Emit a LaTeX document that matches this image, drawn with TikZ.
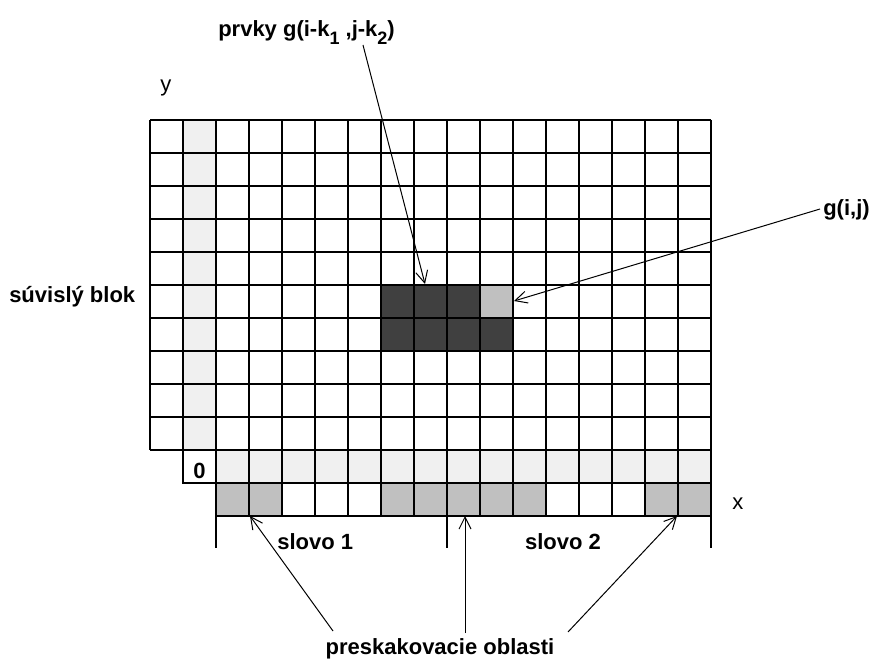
\documentclass[tikz,border=0pt]{standalone}
\usepackage{fontspec}
\setmainfont{Liberation Sans}
\usetikzlibrary{arrows.meta}
\definecolor{lightcell}{HTML}{F0F0F0}
\definecolor{midcell}{HTML}{C0C0C0}
\definecolor{darkcell}{HTML}{404040}
\newcommand{\lowidx}[1]{\raisebox{-5.5pt}{\fontsize{13.5}{14}\selectfont #1}}

\begin{document}
\begin{tikzpicture}[x=0.75pt,y=-0.75pt,
  lbl/.style={font=\fontsize{16.5}{18}\selectfont\bfseries, inner sep=0pt},
  axlbl/.style={font=\fontsize{16.5}{18}\selectfont, inner sep=0pt},
  pointer/.style={-{Straight Barb[length=9pt,width=9pt]}, line width=0.75pt},
  gridline/.style={line width=0.8pt}]
  \useasboundingbox (0,0) rectangle (882,659);
  % shaded cells
  \fill[lightcell] (183,120) rectangle (216,450);
  \fill[lightcell] (216,450) rectangle (711,483);
  \fill[darkcell] (381,285) rectangle (480,318);
  \fill[darkcell] (381,318) rectangle (513,351);
  \fill[midcell] (480,285) rectangle (513,318);
  \foreach \a/\b in {216/282,381/546,645/711}
    \fill[midcell] (\a,483) rectangle (\b,516);
  % grid
  \foreach \y in {120,153,...,450}
    \draw[gridline] (150,\y) -- (711,\y);
  \foreach \x in {150,183,...,711}
    \draw[gridline] (\x,120) -- (\x,450);
  \draw[gridline] (183,450) -- (183,483) -- (711,483);
  \draw[gridline] (216,516) -- (711,516);
  \foreach \x in {216,249,...,711}
    \draw[gridline] (\x,450) -- (\x,516);
  % word borders
  \foreach \x in {216,447,711}
    \draw[gridline] (\x,516) -- (\x,548);
  % labels
  \node[lbl, anchor=base west] (prvky) at (218,37) {prvky g(i-k\lowidx{1} ,j-k\lowidx{2})};
  \node[axlbl, anchor=base west] (ylab) at (160,92) {y};
  \node[axlbl, anchor=base west] (xlab) at (732,509) {x};
  \node[lbl, anchor=base west] (blok) at (9,303) {súvislý blok};
  \node[lbl, anchor=base west] (zero) at (193,478) {0};
  \node[lbl, anchor=base west] (gij) at (823,216) {g(i,j)};
  \node[lbl, anchor=base west] (slovoA) at (277,549) {slovo 1};
  \node[lbl, anchor=base] (slovoB) at (563,549) {slovo 2};
  \node[lbl, anchor=base] (oblasti) at (440,654) {preskakovacie oblasti};
  % pointers
  \coordinate (prvkyEnd) at (363,45);
  \coordinate (prvkyTip) at (425,284);
  \coordinate (gijEnd) at (820,209);
  \coordinate (gijTip) at (514,301);
  \coordinate (oblA) at (333,631);
  \coordinate (oblB) at (465,633);
  \coordinate (oblC) at (568,632);
  \coordinate (skipA) at (250,516);
  \coordinate (skipB) at (465,516);
  \coordinate (skipC) at (677,516);
  \draw[pointer] (prvkyEnd) -- (prvkyTip);
  \draw[pointer] (gijEnd) -- (gijTip);
  \draw[pointer] (oblA) -- (skipA);
  \draw[pointer] (oblB) -- (skipB);
  \draw[pointer] (oblC) -- (skipC);
\end{tikzpicture}
\end{document}
